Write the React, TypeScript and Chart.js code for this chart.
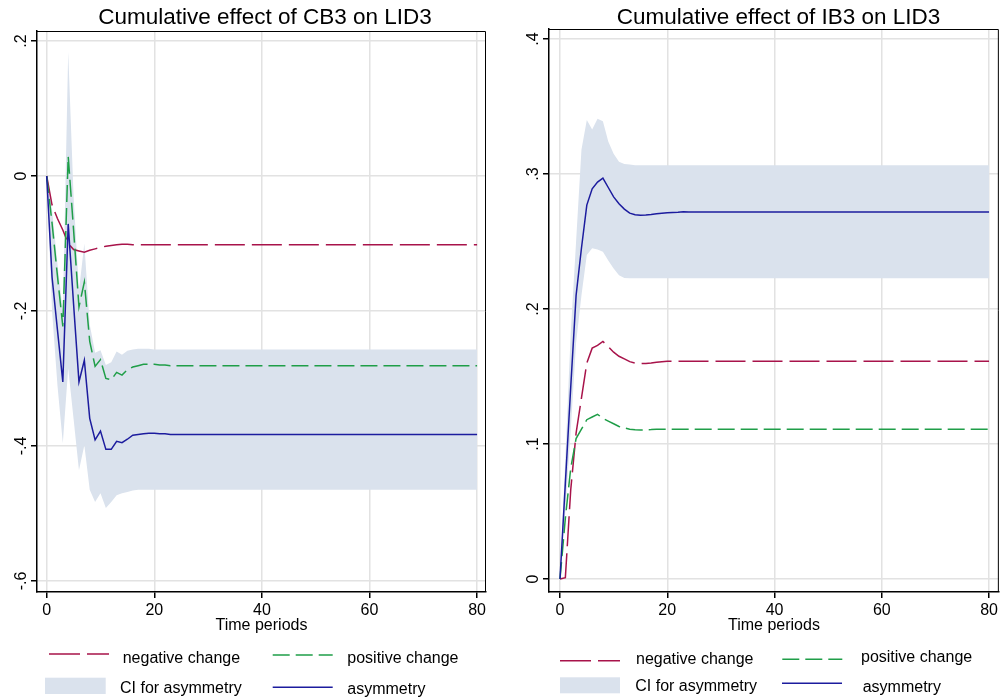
import React, { useEffect, useRef } from "react";
import { Chart, registerables } from "chart.js";

Chart.register(...registerables);

const FONT = '"Liberation Sans", Arial, Helvetica, sans-serif';
const RED = "#a8134a";
const GREEN = "#1f9e48";
const BLUE = "#1c1c9e";
const BAND = "#dae2ed";
const GRID = "#e2e2e2";

// ---------- shared data ----------
const periods = [
  0, 1, 2, 3, 4, 5, 6, 7, 8, 9,
  10, 11, 12, 13, 14, 15, 16, 17, 18, 19,
  20, 21, 22, 23, 24, 25, 26, 27, 28, 29,
  30, 31, 32, 33, 34, 35, 36, 37, 38, 39,
  40, 41, 42, 43, 44, 45, 46, 47, 48, 49,
  50, 51, 52, 53, 54, 55, 56, 57, 58, 59,
  60, 61, 62, 63, 64, 65, 66, 67, 68, 69,
  70, 71, 72, 73, 74, 75, 76, 77, 78, 79,
  80,
];
const xTickValues = [0, 20, 40, 60, 80];
const xTickLabels = ["0", "20", "40", "60", "80"];
const xAxisTitle = "Time periods";
const legendLabels = ["negative change", "positive change", "CI for asymmetry", "asymmetry"];

// ---------- left panel: CB3 ----------
const cbTitle = "Cumulative effect of CB3 on LID3";
const cbYTickValues = [-0.6, -0.4, -0.2, 0, 0.2];
const cbYTickLabels = ["-.6", "-.4", "-.2", "0", ".2"];

const cbNegative = [
  0, -0.043, -0.063, -0.08, -0.1, -0.109, -0.111, -0.113, -0.11, -0.108,
  -0.106, -0.104, -0.103, -0.102, -0.101, -0.101, -0.102, -0.102, -0.102, -0.102,
  -0.102, -0.102, -0.102, -0.102, -0.102, -0.102, -0.102, -0.102, -0.102, -0.102,
  -0.102, -0.102, -0.102, -0.102, -0.102, -0.102, -0.102, -0.102, -0.102, -0.102,
  -0.102, -0.102, -0.102, -0.102, -0.102, -0.102, -0.102, -0.102, -0.102, -0.102,
  -0.102, -0.102, -0.102, -0.102, -0.102, -0.102, -0.102, -0.102, -0.102, -0.102,
  -0.102, -0.102, -0.102, -0.102, -0.102, -0.102, -0.102, -0.102, -0.102, -0.102,
  -0.102, -0.102, -0.102, -0.102, -0.102, -0.102, -0.102, -0.102, -0.102, -0.102,
  -0.102,
];
const cbPositive = [
  0, -0.07, -0.148, -0.223, 0.029, -0.08, -0.194, -0.157, -0.245, -0.282,
  -0.272, -0.3, -0.302, -0.291, -0.295, -0.287, -0.283, -0.281, -0.279, -0.279,
  -0.279, -0.28, -0.28, -0.281, -0.281, -0.281, -0.281, -0.281, -0.281, -0.281,
  -0.281, -0.281, -0.281, -0.281, -0.281, -0.281, -0.281, -0.281, -0.281, -0.281,
  -0.281, -0.281, -0.281, -0.281, -0.281, -0.281, -0.281, -0.281, -0.281, -0.281,
  -0.281, -0.281, -0.281, -0.281, -0.281, -0.281, -0.281, -0.281, -0.281, -0.281,
  -0.281, -0.281, -0.281, -0.281, -0.281, -0.281, -0.281, -0.281, -0.281, -0.281,
  -0.281, -0.281, -0.281, -0.281, -0.281, -0.281, -0.281, -0.281, -0.281, -0.281,
  -0.281,
];
const cbAsymmetry = [
  0, -0.15, -0.228, -0.305, -0.071, -0.19, -0.305, -0.273, -0.359, -0.391,
  -0.378, -0.405, -0.405, -0.393, -0.395, -0.39, -0.384, -0.383, -0.382, -0.381,
  -0.381, -0.382, -0.382, -0.383, -0.383, -0.383, -0.383, -0.383, -0.383, -0.383,
  -0.383, -0.383, -0.383, -0.383, -0.383, -0.383, -0.383, -0.383, -0.383, -0.383,
  -0.383, -0.383, -0.383, -0.383, -0.383, -0.383, -0.383, -0.383, -0.383, -0.383,
  -0.383, -0.383, -0.383, -0.383, -0.383, -0.383, -0.383, -0.383, -0.383, -0.383,
  -0.383, -0.383, -0.383, -0.383, -0.383, -0.383, -0.383, -0.383, -0.383, -0.383,
  -0.383, -0.383, -0.383, -0.383, -0.383, -0.383, -0.383, -0.383, -0.383, -0.383,
  -0.383,
];
const cbCiUpper = [
  0, -0.05, -0.13, -0.2, 0.184, -0.03, -0.17, -0.1, -0.22, -0.262,
  -0.258, -0.28, -0.276, -0.26, -0.265, -0.259, -0.257, -0.256, -0.256, -0.256,
  -0.257, -0.257, -0.257, -0.257, -0.257, -0.257, -0.257, -0.257, -0.257, -0.257,
  -0.257, -0.257, -0.257, -0.257, -0.257, -0.257, -0.257, -0.257, -0.257, -0.257,
  -0.257, -0.257, -0.257, -0.257, -0.257, -0.257, -0.257, -0.257, -0.257, -0.257,
  -0.257, -0.257, -0.257, -0.257, -0.257, -0.257, -0.257, -0.257, -0.257, -0.257,
  -0.257, -0.257, -0.257, -0.257, -0.257, -0.257, -0.257, -0.257, -0.257, -0.257,
  -0.257, -0.257, -0.257, -0.257, -0.257, -0.257, -0.257, -0.257, -0.257, -0.257,
  -0.257,
];
const cbCiLower = [
  0, -0.2, -0.31, -0.396, -0.285, -0.36, -0.436, -0.399, -0.465, -0.483,
  -0.47, -0.492, -0.483, -0.473, -0.47, -0.468, -0.466, -0.465, -0.465, -0.465,
  -0.465, -0.465, -0.465, -0.465, -0.465, -0.465, -0.465, -0.465, -0.465, -0.465,
  -0.465, -0.465, -0.465, -0.465, -0.465, -0.465, -0.465, -0.465, -0.465, -0.465,
  -0.465, -0.465, -0.465, -0.465, -0.465, -0.465, -0.465, -0.465, -0.465, -0.465,
  -0.465, -0.465, -0.465, -0.465, -0.465, -0.465, -0.465, -0.465, -0.465, -0.465,
  -0.465, -0.465, -0.465, -0.465, -0.465, -0.465, -0.465, -0.465, -0.465, -0.465,
  -0.465, -0.465, -0.465, -0.465, -0.465, -0.465, -0.465, -0.465, -0.465, -0.465,
  -0.465,
];

// ---------- right panel: IB3 ----------
const ibTitle = "Cumulative effect of IB3 on LID3";
const ibYTickValues = [0, 0.1, 0.2, 0.3, 0.4];
const ibYTickLabels = ["0", ".1", ".2", ".3", ".4"];

const ibNegative = [
  0, 0.001, 0.066, 0.108, 0.134, 0.16, 0.171, 0.173, 0.176, 0.172,
  0.168, 0.165, 0.163, 0.161, 0.16, 0.1595, 0.1597, 0.16, 0.1605, 0.161,
  0.1613, 0.1613, 0.1613, 0.1613, 0.1613, 0.1613, 0.1613, 0.1613, 0.1613, 0.1613,
  0.1613, 0.1613, 0.1613, 0.1613, 0.1613, 0.1613, 0.1613, 0.1613, 0.1613, 0.1613,
  0.1613, 0.1613, 0.1613, 0.1613, 0.1613, 0.1613, 0.1613, 0.1613, 0.1613, 0.1613,
  0.1613, 0.1613, 0.1613, 0.1613, 0.1613, 0.1613, 0.1613, 0.1613, 0.1613, 0.1613,
  0.1613, 0.1613, 0.1613, 0.1613, 0.1613, 0.1613, 0.1613, 0.1613, 0.1613, 0.1613,
  0.1613, 0.1613, 0.1613, 0.1613, 0.1613, 0.1613, 0.1613, 0.1613, 0.1613, 0.1613,
  0.1613,
];
const ibPositive = [
  0, 0.045, 0.082, 0.104, 0.111, 0.118, 0.12, 0.122, 0.119, 0.117,
  0.115, 0.113, 0.112, 0.111, 0.1105, 0.1103, 0.1105, 0.1107, 0.111, 0.111,
  0.111, 0.111, 0.111, 0.111, 0.111, 0.111, 0.111, 0.111, 0.111, 0.111,
  0.111, 0.111, 0.111, 0.111, 0.111, 0.111, 0.111, 0.111, 0.111, 0.111,
  0.111, 0.111, 0.111, 0.111, 0.111, 0.111, 0.111, 0.111, 0.111, 0.111,
  0.111, 0.111, 0.111, 0.111, 0.111, 0.111, 0.111, 0.111, 0.111, 0.111,
  0.111, 0.111, 0.111, 0.111, 0.111, 0.111, 0.111, 0.111, 0.111, 0.111,
  0.111, 0.111, 0.111, 0.111, 0.111, 0.111, 0.111, 0.111, 0.111, 0.111,
  0.111,
];
const ibAsymmetry = [
  0, 0.071, 0.142, 0.21, 0.245, 0.277, 0.289, 0.294, 0.297, 0.29,
  0.283, 0.278, 0.274, 0.271, 0.2698, 0.2695, 0.2697, 0.27, 0.2705, 0.271,
  0.2713, 0.2715, 0.2717, 0.272, 0.2719, 0.2718, 0.2718, 0.2718, 0.2718, 0.2718,
  0.2718, 0.2718, 0.2718, 0.2718, 0.2718, 0.2718, 0.2718, 0.2718, 0.2718, 0.2718,
  0.2718, 0.2718, 0.2718, 0.2718, 0.2718, 0.2718, 0.2718, 0.2718, 0.2718, 0.2718,
  0.2718, 0.2718, 0.2718, 0.2718, 0.2718, 0.2718, 0.2718, 0.2718, 0.2718, 0.2718,
  0.2718, 0.2718, 0.2718, 0.2718, 0.2718, 0.2718, 0.2718, 0.2718, 0.2718, 0.2718,
  0.2718, 0.2718, 0.2718, 0.2718, 0.2718, 0.2718, 0.2718, 0.2718, 0.2718, 0.2718,
  0.2718,
];
const ibCiUpper = [
  0, 0.09, 0.182, 0.25, 0.318, 0.34, 0.333, 0.341, 0.339, 0.324,
  0.315, 0.309, 0.3075, 0.307, 0.3065, 0.3065, 0.3065, 0.3065, 0.3065, 0.3065,
  0.3065, 0.3065, 0.3065, 0.3065, 0.3065, 0.3065, 0.3065, 0.3065, 0.3065, 0.3065,
  0.3065, 0.3065, 0.3065, 0.3065, 0.3065, 0.3065, 0.3065, 0.3065, 0.3065, 0.3065,
  0.3065, 0.3065, 0.3065, 0.3065, 0.3065, 0.3065, 0.3065, 0.3065, 0.3065, 0.3065,
  0.3065, 0.3065, 0.3065, 0.3065, 0.3065, 0.3065, 0.3065, 0.3065, 0.3065, 0.3065,
  0.3065, 0.3065, 0.3065, 0.3065, 0.3065, 0.3065, 0.3065, 0.3065, 0.3065, 0.3065,
  0.3065, 0.3065, 0.3065, 0.3065, 0.3065, 0.3065, 0.3065, 0.3065, 0.3065, 0.3065,
  0.3065,
];
const ibCiLower = [
  0, 0.05, 0.11, 0.175, 0.21, 0.24, 0.245, 0.244, 0.2425, 0.236,
  0.23, 0.225, 0.223, 0.2227, 0.2227, 0.2227, 0.2227, 0.2227, 0.2227, 0.2227,
  0.2227, 0.2227, 0.2227, 0.2227, 0.2227, 0.2227, 0.2227, 0.2227, 0.2227, 0.2227,
  0.2227, 0.2227, 0.2227, 0.2227, 0.2227, 0.2227, 0.2227, 0.2227, 0.2227, 0.2227,
  0.2227, 0.2227, 0.2227, 0.2227, 0.2227, 0.2227, 0.2227, 0.2227, 0.2227, 0.2227,
  0.2227, 0.2227, 0.2227, 0.2227, 0.2227, 0.2227, 0.2227, 0.2227, 0.2227, 0.2227,
  0.2227, 0.2227, 0.2227, 0.2227, 0.2227, 0.2227, 0.2227, 0.2227, 0.2227, 0.2227,
  0.2227, 0.2227, 0.2227, 0.2227, 0.2227, 0.2227, 0.2227, 0.2227, 0.2227, 0.2227,
  0.2227,
];

// ---------- layout (not data) ----------
type Legend = {
  negLine: number[]; negText: number[];
  posLine: number[]; posText: number[];
  ciRect: number[]; ciText: number[];
  asymLine: number[]; asymText: number[];
};
type Panel = {
  title: string;
  neg: number[]; pos: number[]; asym: number[]; lo: number[]; hi: number[];
  yTicks: number[]; yLabels: string[];
  canvasWidth: number;
  pad: { top: number; right: number };
  yWidth: number;
  xRange: [number, number];
  yRange: [number, number];
  titleX: number;
  yLabelX: number;
  legend: Legend;
};

const leftPanel: Panel = {
  title: cbTitle,
  neg: cbNegative, pos: cbPositive, asym: cbAsymmetry, lo: cbCiLower, hi: cbCiUpper,
  yTicks: cbYTickValues, yLabels: cbYTickLabels,
  canvasWidth: 500,
  pad: { top: 31, right: 14 },
  yWidth: 37,
  xRange: [-1.8, 81.66],
  yRange: [-0.6163, 0.2148],
  titleX: 265,
  yLabelX: 26,
  legend: {
    negLine: [49, 109, 654], negText: [122.7, 662.6],
    posLine: [272.7, 332.7, 655], posText: [347.3, 662.6],
    ciRect: [45, 677.7, 60.7, 16.3], ciText: [120, 693.3],
    asymLine: [272.7, 332.7, 687.3], asymText: [347.3, 694.4],
  },
};

const rightPanel: Panel = {
  title: ibTitle,
  neg: ibNegative, pos: ibPositive, asym: ibAsymmetry, lo: ibCiLower, hi: ibCiUpper,
  yTicks: ibYTickValues, yLabels: ibYTickLabels,
  canvasWidth: 501,
  pad: { top: 29, right: 2 },
  yWidth: 49,
  xRange: [-2.05, 81.83],
  yRange: [-0.00963, 0.40741],
  titleX: 278.5,
  yLabelX: 38,
  legend: {
    negLine: [60, 120, 660.7], negText: [136, 664],
    posLine: [282.3, 342.3, 659.3], posText: [361, 661.6],
    ciRect: [60, 677.3, 60, 16], ciText: [135.3, 690.6],
    asymLine: [282, 342, 683.3], asymText: [362.7, 691.6],
  },
};

function makeChart(canvas: HTMLCanvasElement, p: Panel) {
  const pts = (arr: number[]) => periods.map((x, i) => ({ x, y: arr[i] }));

  const decor = {
    id: "decor",
    afterDraw(chart: any) {
      const ctx: CanvasRenderingContext2D = chart.ctx;
      const a = chart.chartArea;
      ctx.save();

      // plot frame (top & right)
      ctx.strokeStyle = "#000";
      ctx.lineWidth = 1;
      ctx.setLineDash([]);
      ctx.beginPath();
      ctx.moveTo(a.left, a.top + 0.5);
      ctx.lineTo(a.right - 0.5, a.top + 0.5);
      ctx.lineTo(a.right - 0.5, a.bottom);
      ctx.stroke();

      // title
      ctx.fillStyle = "#000";
      ctx.font = `22.5px ${FONT}`;
      ctx.textAlign = "center";
      ctx.textBaseline = "alphabetic";
      ctx.fillText(p.title, p.titleX, 24);

      // rotated y tick labels
      const ys = chart.scales.y;
      ctx.font = `16px ${FONT}`;
      p.yTicks.forEach((v, i) => {
        const y = ys.getPixelForValue(v);
        ctx.save();
        ctx.translate(p.yLabelX, y);
        ctx.rotate(-Math.PI / 2);
        ctx.textAlign = "center";
        ctx.textBaseline = "alphabetic";
        ctx.fillText(p.yLabels[i], 0, 0);
        ctx.restore();
      });

      // legend
      const L = p.legend;
      const line = (seg: number[], color: string, dash: number[], w: number) => {
        ctx.strokeStyle = color;
        ctx.lineWidth = w;
        ctx.setLineDash(dash);
        ctx.beginPath();
        ctx.moveTo(seg[0], seg[2]);
        ctx.lineTo(seg[1], seg[2]);
        ctx.stroke();
      };
      line(L.negLine, RED, [31, 7], 1.5);
      line(L.posLine, GREEN, [17, 6], 1.5);
      line(L.asymLine, BLUE, [], 1.5);
      ctx.setLineDash([]);
      ctx.fillStyle = BAND;
      ctx.fillRect(L.ciRect[0], L.ciRect[1], L.ciRect[2], L.ciRect[3]);

      ctx.fillStyle = "#000";
      ctx.font = `16px ${FONT}`;
      ctx.textAlign = "left";
      ctx.textBaseline = "alphabetic";
      ctx.fillText(legendLabels[0], L.negText[0], L.negText[1]);
      ctx.fillText(legendLabels[1], L.posText[0], L.posText[1]);
      ctx.fillText(legendLabels[2], L.ciText[0], L.ciText[1]);
      ctx.fillText(legendLabels[3], L.asymText[0], L.asymText[1]);

      ctx.restore();
    },
  };

  const gridOpts = {
    color: GRID,
    lineWidth: 1.5,
    tickLength: 6,
    tickColor: "#000",
    tickWidth: 1.5,
    drawTicks: true,
  };

  return new Chart(canvas, {
    type: "line",
    data: {
      datasets: [
        {
          label: legendLabels[3],
          data: pts(p.asym),
          borderColor: BLUE,
          borderWidth: 1.5,
          pointRadius: 0,
          tension: 0,
          fill: false,
          order: 0,
        },
        {
          label: legendLabels[1],
          data: pts(p.pos),
          borderColor: GREEN,
          borderWidth: 1.5,
          borderDash: [17, 6],
          pointRadius: 0,
          tension: 0,
          fill: false,
          order: 1,
        },
        {
          label: legendLabels[0],
          data: pts(p.neg),
          borderColor: RED,
          borderWidth: 1.5,
          borderDash: [30, 7],
          pointRadius: 0,
          tension: 0,
          fill: false,
          order: 2,
        },
        {
          label: "CI lower",
          data: pts(p.lo),
          borderColor: "rgba(0,0,0,0)",
          borderWidth: 0,
          pointRadius: 0,
          tension: 0,
          fill: false,
          order: 3,
        },
        {
          label: legendLabels[2],
          data: pts(p.hi),
          borderColor: "rgba(0,0,0,0)",
          backgroundColor: BAND,
          borderWidth: 0,
          pointRadius: 0,
          tension: 0,
          fill: "-1",
          order: 3,
        },
      ],
    } as any,
    options: {
      animation: false,
      responsive: false,
      events: [],
      layout: { padding: { top: p.pad.top, right: p.pad.right, left: 0, bottom: 0 } },
      plugins: {
        legend: { display: false },
        title: { display: false },
        tooltip: { enabled: false },
      },
      scales: {
        x: {
          type: "linear",
          min: p.xRange[0],
          max: p.xRange[1],
          afterBuildTicks: (s: any) => {
            s.ticks = xTickValues.map((v) => ({ value: v }));
          },
          afterFit: (s: any) => {
            s.height = 108;
          },
          ticks: {
            color: "#000",
            font: { family: FONT, size: 16 },
            padding: 3,
            maxRotation: 0,
            autoSkip: false,
            callback: (v: any) => {
              const i = xTickValues.indexOf(Number(v));
              return i >= 0 ? xTickLabels[i] : "";
            },
          },
          grid: gridOpts,
          border: { color: "#000", width: 1.5 },
          title: {
            display: true,
            text: xAxisTitle,
            color: "#000",
            font: { family: FONT, size: 16 },
            padding: { top: 0, bottom: 64.4 },
          },
        },
        y: {
          type: "linear",
          min: p.yRange[0],
          max: p.yRange[1],
          afterBuildTicks: (s: any) => {
            s.ticks = p.yTicks.map((v) => ({ value: v }));
          },
          afterFit: (s: any) => {
            s.width = p.yWidth;
          },
          ticks: { display: false },
          grid: gridOpts,
          border: { color: "#000", width: 1.5 },
        },
      },
    } as any,
    plugins: [decor],
  });
}

export default function App() {
  const leftRef = useRef<HTMLCanvasElement>(null);
  const rightRef = useRef<HTMLCanvasElement>(null);

  useEffect(() => {
    const c1 = makeChart(leftRef.current as HTMLCanvasElement, leftPanel);
    const c2 = makeChart(rightRef.current as HTMLCanvasElement, rightPanel);
    return () => {
      c1.destroy();
      c2.destroy();
    };
  }, []);

  return (
    <div style={{ position: "absolute", left: 0, top: 0, width: 1001, height: 700, background: "#fff" }}>
      <canvas
        ref={leftRef}
        width={500}
        height={700}
        style={{ position: "absolute", left: 0, top: 0, width: 500, height: 700, display: "block" }}
      />
      <canvas
        ref={rightRef}
        width={501}
        height={700}
        style={{ position: "absolute", left: 500, top: 0, width: 501, height: 700, display: "block" }}
      />
    </div>
  );
}
